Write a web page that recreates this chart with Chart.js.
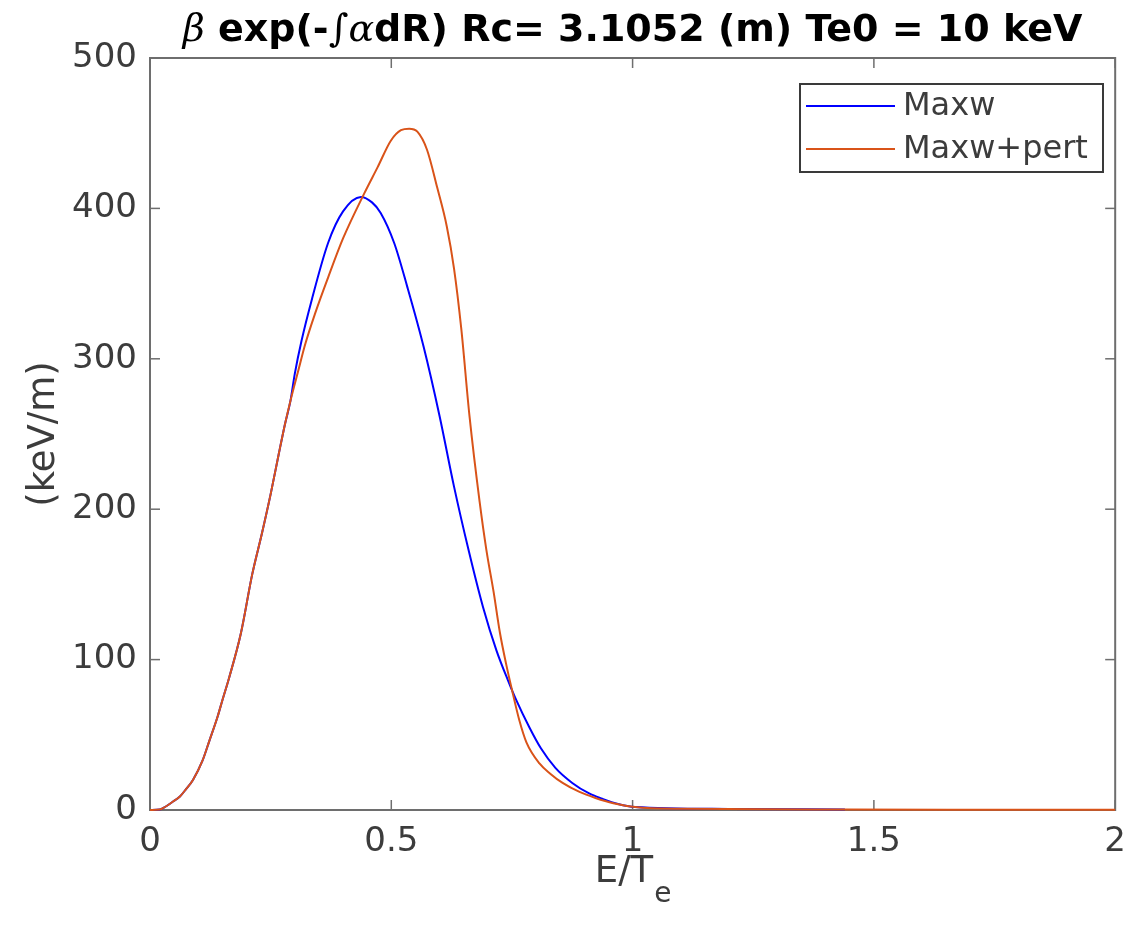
<!DOCTYPE html>
<html lang="en">
<head>
    <meta charset="UTF-8">
    <title>beta exp(-int alpha dR)</title>
    <script src="https://cdn.jsdelivr.net/npm/chart.js"></script>
    <style>
        body {
            margin: 0;
            background: white;
        }

        .chart-box {
            width: 1138px;
            height: 928px;
        }
    </style>
</head>
<body>
    <div class="chart-box">
        <canvas id="specChart"></canvas>
    </div>

    <script>
        // values
        const seriesNames = ['Maxw', 'Maxw+pert'];

        const energyMaxw = [0, 0.02, 0.031, 0.045, 0.062, 0.075, 0.089, 0.109, 0.123, 0.14, 0.15, 0.164, 0.188,
            0.212, 0.232, 0.25, 0.267, 0.28, 0.291, 0.30, 0.314, 0.335, 0.369, 0.40, 0.437, 0.46, 0.478, 0.506,
            0.533, 0.567, 0.60, 0.63, 0.66, 0.69, 0.718, 0.742, 0.759, 0.786, 0.81, 0.84, 0.875, 0.91, 0.937,
            0.97, 1.005, 1.2, 1.44];
        const valueMaxw = [0, 0.3, 2, 5, 9, 14, 20, 33, 46, 62, 73, 88, 117,
            157, 184, 210, 237, 257, 272, 290, 312, 339, 377, 398, 407.6, 404, 397, 377,
            348, 308, 262, 215, 173, 135, 106, 86, 73, 55, 41, 28, 18, 11, 7.5,
            4, 2, 0.7, 0.3];

        const energyPert = [0, 0.02, 0.031, 0.045, 0.062, 0.075, 0.089, 0.109, 0.123, 0.14, 0.15, 0.164, 0.188,
            0.212, 0.232, 0.25, 0.267, 0.28, 0.291, 0.308, 0.321, 0.342, 0.369, 0.40, 0.444, 0.472, 0.499, 0.52,
            0.537, 0.554, 0.574, 0.595, 0.615, 0.63, 0.645, 0.662, 0.683, 0.697, 0.712, 0.725, 0.738, 0.75, 0.765,
            0.78, 0.807, 0.83, 0.855, 0.89, 0.923, 0.96, 1.005, 1.1, 1.44, 2];
        const valuePert = [0, 0.3, 2, 5, 9, 14, 20, 33, 46, 62, 73, 88, 117,
            157, 184, 210, 237, 257, 272, 293, 309, 330, 354, 380, 410, 427.6, 445, 452,
            453, 451, 439, 414, 388, 360, 320, 262, 205, 173, 145, 118, 97, 80, 60,
            45, 31, 24, 18, 12, 8, 4.5, 2, 0.8, 0.3, 0.2];

        const xTicks = [0, 0.5, 1, 1.5, 2];
        const yTicks = [0, 100, 200, 300, 400, 500];

        const axisColor = '#6e6e6e';
        const textColor = '#3c3c3c';

        function toPoints(xs, ys) {
            return xs.map((x, i) => ({ x: x, y: ys[i] }));
        }

        function line(ctx, x1, y1, x2, y2) {
            ctx.beginPath();
            ctx.moveTo(x1, y1);
            ctx.lineTo(x2, y2);
            ctx.stroke();
        }

        // box, inward ticks, title, axis labels, legend (MATLAB look)
        const framePlugin = {
            id: 'frame',
            beforeDatasetsDraw(chart) {
                const { ctx, chartArea: a, scales: { x, y } } = chart;
                ctx.save();
                ctx.strokeStyle = axisColor;
                ctx.lineWidth = 2;
                ctx.strokeRect(a.left, a.top, a.right - a.left, a.bottom - a.top);
                ctx.lineWidth = 1.5;
                xTicks.forEach(v => {
                    const px = x.getPixelForValue(v);
                    line(ctx, px, a.bottom, px, a.bottom - 10);
                    line(ctx, px, a.top, px, a.top + 10);
                });
                yTicks.forEach(v => {
                    const py = y.getPixelForValue(v);
                    line(ctx, a.left, py, a.left + 10, py);
                    line(ctx, a.right, py, a.right - 10, py);
                });
                ctx.restore();
            },
            afterDraw(chart) {
                const { ctx, chartArea: a } = chart;
                const mid = (a.left + a.right) / 2;
                ctx.save();

                // title with TeX-like pieces
                const parts = [
                    { t: '\u03B2', f: 'italic 38px "DejaVu Serif"' },
                    { t: ' exp(-', f: 'bold 38px "DejaVu Sans"' },
                    { t: '\u222B\u03B1', f: 'italic 38px "DejaVu Serif"' },
                    { t: 'dR) Rc= 3.1052 (m) Te0 = 10 keV', f: 'bold 38px "DejaVu Sans"' }
                ];
                let total = 0;
                parts.forEach(p => { ctx.font = p.f; p.w = ctx.measureText(p.t).width; total += p.w; });
                const fit = Math.min(1, 940 / total);
                let tx = mid - total * fit / 2;
                ctx.fillStyle = '#000';
                ctx.textBaseline = 'alphabetic';
                ctx.textAlign = 'left';
                ctx.translate(tx, 41);
                ctx.scale(fit, 1);
                let off = 0;
                parts.forEach(p => {
                    ctx.font = p.f;
                    ctx.fillText(p.t, off, 0);
                    off += p.w;
                });
                ctx.setTransform(1, 0, 0, 1, 0, 0);

                // x label E/T_e
                ctx.fillStyle = textColor;
                ctx.font = '37px "DejaVu Sans"';
                const mainW = ctx.measureText('E/T').width;
                ctx.font = '28px "DejaVu Sans"';
                const subW = ctx.measureText('e').width;
                const sx = mid - (mainW + subW) / 2;
                ctx.font = '37px "DejaVu Sans"';
                ctx.fillText('E/T', sx, 882);
                ctx.font = '28px "DejaVu Sans"';
                ctx.fillText('e', sx + mainW + 1, 902);

                // y label
                ctx.save();
                ctx.translate(44, (a.top + a.bottom) / 2);
                ctx.rotate(-Math.PI / 2);
                ctx.textAlign = 'center';
                ctx.textBaseline = 'middle';
                ctx.font = '37px "DejaVu Sans"';
                ctx.fillText('(keV/m)', 0, 0);
                ctx.restore();

                // legend box
                const lx = 800, ly = 84, lw = 303, lh = 88;
                ctx.fillStyle = '#fff';
                ctx.fillRect(lx, ly, lw, lh);
                ctx.strokeStyle = '#3a3a3a';
                ctx.lineWidth = 2;
                ctx.strokeRect(lx, ly, lw, lh);
                ctx.font = '32px "DejaVu Sans"';
                ctx.textBaseline = 'middle';
                ctx.textAlign = 'left';
                chart.data.datasets.forEach((ds, i) => {
                    const yy = ly + 22 + i * 43;
                    ctx.strokeStyle = ds.borderColor;
                    ctx.lineWidth = 2;
                    line(ctx, lx + 6, yy, lx + 95, yy);
                    ctx.fillStyle = textColor;
                    ctx.fillText(seriesNames[i], lx + 103, yy + 1);
                });
                ctx.restore();
            }
        };

        new Chart(document.getElementById('specChart'), {
            type: 'scatter',
            data: {
                datasets: [{
                    label: seriesNames[0],
                    data: toPoints(energyMaxw, valueMaxw),
                    borderColor: '#0000ff',
                    borderWidth: 2,
                    showLine: true,
                    pointRadius: 0,
                    cubicInterpolationMode: 'monotone',
                    clip: 4,
                    order: 2
                }, {
                    label: seriesNames[1],
                    data: toPoints(energyPert, valuePert),
                    borderColor: '#d95319',
                    borderWidth: 2,
                    showLine: true,
                    pointRadius: 0,
                    cubicInterpolationMode: 'monotone',
                    clip: 4,
                    order: 1
                }]
            },
            options: {
                responsive: true,
                maintainAspectRatio: false,
                animation: false,
                events: [],
                layout: { padding: { top: 58, right: 13, left: 0, bottom: 0 } },
                plugins: {
                    legend: { display: false },
                    tooltip: { enabled: false },
                    title: { display: false }
                },
                scales: {
                    x: {
                        type: 'linear',
                        min: 0,
                        max: 2,
                        afterBuildTicks: s => { s.ticks = xTicks.map(v => ({ value: v })); },
                        afterFit: s => { s.height = 118; },
                        grid: { display: false, drawTicks: false },
                        border: { display: false },
                        ticks: {
                            color: textColor,
                            font: { family: 'DejaVu Sans', size: 34 },
                            padding: 12,
                            maxRotation: 0,
                            callback: v => String(v)
                        }
                    },
                    y: {
                        type: 'linear',
                        min: 0,
                        max: 500,
                        afterBuildTicks: s => { s.ticks = yTicks.map(v => ({ value: v })); },
                        afterFit: s => { s.width = 150; },
                        grid: { display: false, drawTicks: false },
                        border: { display: false },
                        ticks: {
                            color: textColor,
                            font: { family: 'DejaVu Sans', size: 34 },
                            padding: 13,
                            callback: v => String(v)
                        }
                    }
                }
            },
            plugins: [framePlugin]
        });
    </script>
</body>
</html>
